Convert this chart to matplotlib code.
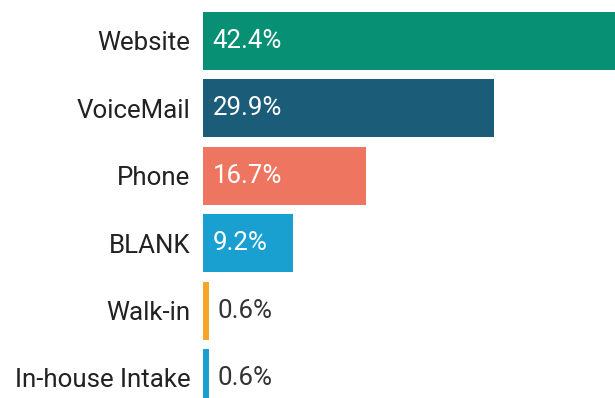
import matplotlib
matplotlib.use("Agg")
import matplotlib.pyplot as plt

plt.rcParams["font.family"] = ["Roboto", "DejaVu Sans"]

# ── Data ──────────────────────────────────────────────────────────────────────
sources = ["Website", "VoiceMail", "Phone", "BLANK", "Walk-in", "In-house Intake"]
shares = [42.4, 29.9, 16.7, 9.2, 0.6, 0.6]
colors = ["#079073", "#1b5c79", "#ee7660", "#1aa0d0", "#f5a52a", "#1aa0d0"]

# ── Figure ────────────────────────────────────────────────────────────────────
fig = plt.figure(figsize=(6.15, 3.98), dpi=100)
ax = fig.add_axes([203 / 615, 0, 1 - 203 / 615, 1])

ypos = list(range(len(sources)))
ax.barh(ypos, shares, height=0.86, color=colors)

ax.set_xlim(0, 42.3)
ax.set_ylim(5.297, -0.608)

FS = 18.6
for y, v in zip(ypos, shares):
    txt = f"{v:.1f}%"
    if v > 3:
        ax.annotate(txt, (0, y), xytext=(7, 0), textcoords="offset points",
                    ha="left", va="center", color="white", fontsize=FS)
    else:
        ax.annotate(txt, (v, y), xytext=(6, 0), textcoords="offset points",
                    ha="left", va="center", color="#333333", fontsize=FS)

ax.set_yticks(ypos)
ax.set_yticklabels(sources, fontsize=FS, color="#222222")
ax.tick_params(axis="y", length=0, pad=9)
ax.set_xticks([])
for side in ax.spines.values():
    side.set_visible(False)

fig.savefig("out.png", dpi=100)
